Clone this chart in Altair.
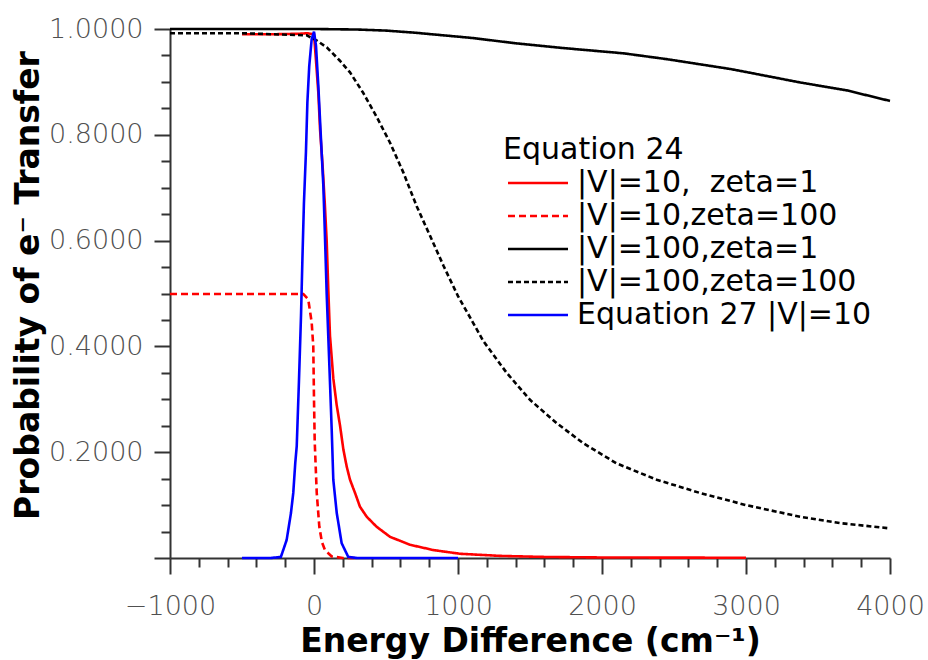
import altair as alt
import pandas as pd

# ---- data ----
red_solid_x = [-500, -300, -100, -50, 0, 14, 30, 42, 60, 75, 88, 99, 111, 134, 157, 181, 204, 227, 250, 285, 319, 366, 435, 528, 667, 829, 1014, 1292, 1600, 2000, 2500, 3000]
red_solid_y = [0.990, 0.990, 0.991, 0.992, 0.990, 0.940, 0.880, 0.810, 0.740, 0.670, 0.600, 0.510, 0.420, 0.340, 0.290, 0.250, 0.205, 0.173, 0.148, 0.123, 0.097, 0.078, 0.059, 0.040, 0.025, 0.015, 0.008, 0.004, 0.002, 0.001, 0.0007, 0.0005]

red_dash_x = [-1000, -500, -74, -40, -16, -5, 0, 5, 19, 37, 55, 76, 123, 200, 300]
red_dash_y = [0.499, 0.499, 0.499, 0.489, 0.445, 0.400, 0.300, 0.220, 0.123, 0.059, 0.030, 0.015, 0.003, 0.0, 0.0]

black_solid_x = [-1000, 0, 300, 500, 700, 900, 1100, 1400, 1730, 2150, 2450, 2900, 3375, 3700, 4000]
black_solid_y = [1.0, 1.0, 0.999, 0.997, 0.993, 0.988, 0.983, 0.973, 0.964, 0.954, 0.943, 0.924, 0.899, 0.884, 0.864]

black_dash_x = [-1000, -500, -50, 20, 90, 180, 250, 340, 435, 528, 620, 713, 806, 900, 1000, 1100, 1176, 1338, 1500, 1685, 1870, 2100, 2380, 2680, 3000, 3375, 3650, 4000]
black_dash_y = [0.992, 0.992, 0.988, 0.978, 0.965, 0.940, 0.918, 0.880, 0.834, 0.785, 0.729, 0.665, 0.609, 0.552, 0.495, 0.447, 0.410, 0.350, 0.299, 0.255, 0.217, 0.179, 0.148, 0.123, 0.100, 0.078, 0.066, 0.056]

blue_x = [-500, -300, -230, -190, -160, -144, -130, -120, -105, -90, -80, -70, -56, -46, -33, -16, 0, 14, 30, 46, 65, 76, 88, 106, 123, 134, 158, 192, 238, 300, 1000]
blue_y = [0.0, 0.0, 0.002, 0.034, 0.085, 0.123, 0.180, 0.211, 0.330, 0.460, 0.570, 0.670, 0.767, 0.861, 0.930, 0.981, 0.995, 0.968, 0.893, 0.805, 0.703, 0.609, 0.500, 0.369, 0.242, 0.148, 0.085, 0.028, 0.002, 0.0, 0.0]

series_names = ["|V|=10,\u00a0 zeta=1", "|V|=10,zeta=100", "|V|=100,zeta=1", "|V|=100,zeta=100", "Equation 27 |V|=10"]
series_colors = ["#ff0000", "#ff0000", "#000000", "#000000", "#0000ff"]
series_dashes = [[1, 0], [7, 4], [1, 0], [5, 3], [1, 0]]

x_ticks = list(range(-1000, 4001, 200))
y_ticks = [round(i * 0.05, 2) for i in range(21)]

series_data = [
    (series_names[0], red_solid_x, red_solid_y),
    (series_names[1], red_dash_x, red_dash_y),
    (series_names[2], black_solid_x, black_solid_y),
    (series_names[3], black_dash_x, black_dash_y),
    (series_names[4], blue_x, blue_y),
]
rows = []
for order, (name, xs, ys) in enumerate(series_data):
    for i, (xv, yv) in enumerate(zip(xs, ys)):
        rows.append({"series": name, "E": xv, "P": yv, "k": order * 1000 + i})
df = pd.DataFrame(rows)

FONT = "DejaVu Sans"
AXIS_COLOR = "#333333"

legend = alt.Legend(
    title="Equation 24", orient="none", legendX=333, legendY=106,
    symbolType="M-1,0H5", symbolSize=400, symbolStrokeWidth=2.5,
    labelOffset=44, labelFontSize=30, titleFontSize=30, titleFontWeight="normal",
    labelFont=FONT, titleFont=FONT, labelColor="#000000", titleColor="#000000",
    rowPadding=3, titlePadding=3, padding=0, labelLimit=500, titleLimit=500,
)

x_axis = alt.Axis(
    values=x_ticks,
    tickSize={"condition": {"test": "datum.value % 1000 === 0", "value": 16}, "value": 9},
    labelExpr="datum.value % 1000 === 0 ? format(datum.value, 'd') : ''",
    labelFont=FONT, labelFontSize=27, labelFontWeight=200, labelColor="#505050", labelBaseline="middle",
    labelPadding=32, labelOverlap=False, labelFlush=False, labelBound=False,
    title="Energy Difference (cm\u207b\u00b9)", titleFont=FONT, titleFontSize=33,
    titleFontWeight="bold", titleColor="#000000", titleBaseline="alphabetic", titleY=93,
    domainColor=AXIS_COLOR, domainWidth=2, tickColor=AXIS_COLOR, tickWidth=2, grid=False,
)

y_axis = alt.Axis(
    values=y_ticks,
    tickSize={"condition": {"test": "abs(datum.value*5 - round(datum.value*5)) < 1e-6", "value": 16}, "value": 9},
    labelExpr="(abs(datum.value*5 - round(datum.value*5)) < 1e-6 && datum.value > 0.01) ? format(datum.value, '.4f') : ''",
    labelFont=FONT, labelFontSize=27, labelFontWeight=200, labelColor="#505050", labelBaseline="middle",
    labelPadding=11, labelOverlap=False, labelFlush=False, labelBound=False,
    title="Probability of e\u207b Transfer", titleFont=FONT, titleFontSize=33,
    titleFontWeight="bold", titleColor="#000000", titleBaseline="alphabetic", titleX=-132, titleY=256,
    domainColor=AXIS_COLOR, domainWidth=2, tickColor=AXIS_COLOR, tickWidth=2, grid=False,
)

chart = alt.Chart(df).mark_line(strokeWidth=2.6, clip=False).encode(
    x=alt.X("E:Q", scale=alt.Scale(domain=[-1000, 4000], nice=False, zero=False), axis=x_axis),
    y=alt.Y("P:Q", scale=alt.Scale(domain=[0, 1], nice=False), axis=y_axis),
    color=alt.Color("series:N", scale=alt.Scale(domain=series_names, range=series_colors), legend=legend),
    strokeDash=alt.StrokeDash("series:N", scale=alt.Scale(domain=series_names, range=series_dashes), legend=legend),
    order=alt.Order("k:Q"),
).properties(
    width=720, height=529,
    background="white",
    autosize=alt.AutoSizeParams(type="none"),
    padding={"left": 170, "top": 29, "right": 38, "bottom": 102},
).configure_view(stroke=None, strokeWidth=0)

chart.save("out.html", embed_options={"renderer": "svg", "actions": False})
